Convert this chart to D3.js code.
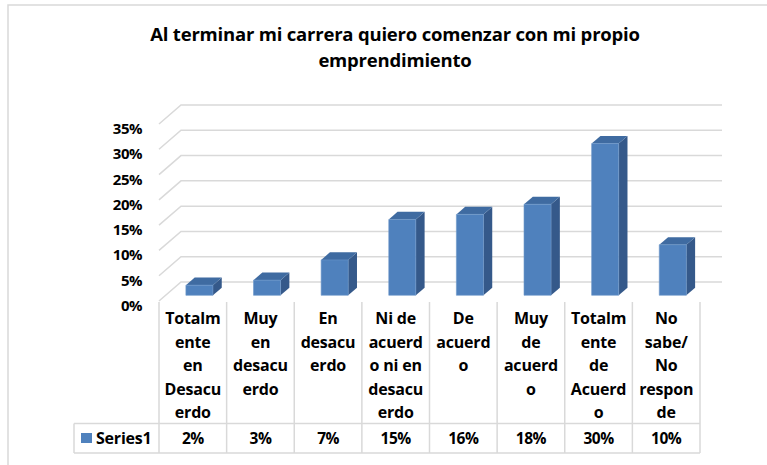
<!DOCTYPE html>
<html>
<head>
<meta charset="utf-8">
<script src="https://cdn.jsdelivr.net/npm/d3@7"></script>
<style>
    body { margin: 0; background: #fff; }
    svg { display: block; font-family: 'Open Sans', 'Lato', sans-serif; }
</style>
</head>
<body>
<svg id="chart" width="767" height="465"></svg>
<script>
// Data
const categories = ['c1', 'c2', 'c3', 'c4', 'c5', 'c6', 'c7', 'c8'];
const categoryLines = [
    ['Totalm', 'ente', 'en', 'Desacu', 'erdo'],
    ['Muy', 'en', 'desacu', 'erdo'],
    ['En', 'desacu', 'erdo'],
    ['Ni de', 'acuerd', 'o ni en', 'desacu', 'erdo'],
    ['De', 'acuerd', 'o'],
    ['Muy', 'de', 'acuerd', 'o'],
    ['Totalm', 'ente', 'de', 'Acuerd', 'o'],
    ['No', 'sabe/', 'No', 'respon', 'de']
];
const values = [0.02, 0.03, 0.07, 0.15, 0.16, 0.18, 0.30, 0.10];
const valueLabels = ['2%', '3%', '7%', '15%', '16%', '18%', '30%', '10%'];
const yTicks = [0, 0.05, 0.10, 0.15, 0.20, 0.25, 0.30, 0.35];
const seriesName = 'Series1';
const titleLines = ['Al terminar mi carrera quiero comenzar con mi propio', 'emprendimiento'];

const svg = d3.select('#chart');

// Outer chart border (only top/left visible)
svg.append('path')
    .attr('d', 'M8,465 V5 H767')
    .attr('fill', 'none')
    .attr('stroke', '#d9d9d9')
    .attr('stroke-width', 1.5);

// Title
svg.append('text')
    .attr('text-anchor', 'middle')
    .attr('font-weight', 'bold')
    .attr('font-size', 18.5)
    .attr('letter-spacing', -0.2)
    .attr('fill', '#000')
    .selectAll('tspan')
    .data(titleLines)
    .join('tspan')
    .attr('x', 395)
    .attr('y', (d, i) => 41 + i * 26)
    .text(d => d);

// Scales
const x = d3.scaleBand().domain(categories).range([159, 700]);
const y = d3.scaleLinear().domain([0, 0.35]).range([0, 177]);
const floorY = 301;
const depthDx = 22, depthDy = -19;

// project a point: front x, value, depth (0 front .. 1 back)
function pt(px, v, d) {
    return [px + d * depthDx, floorY + d * depthDy - y(v)];
}

const grid = svg.append('g')
    .attr('fill', 'none')
    .attr('stroke', '#d9d9d9')
    .attr('stroke-width', 1.5);

// back wall gridlines + side wall diagonals
yTicks.forEach(v => {
    const a = pt(x.range()[0], v, 0);
    const b = pt(x.range()[0], v, 1);
    const c = pt(x.range()[1], v, 1);
    grid.append('path').attr('d', `M${a[0]},${a[1]} L${b[0]},${b[1]} L${c[0]},${c[1]}`);
});

// Y axis labels
svg.append('g')
    .attr('font-weight', 'bold')
    .attr('font-size', 15)
    .attr('letter-spacing', -0.5)
    .attr('text-anchor', 'end')
    .selectAll('text')
    .data(yTicks)
    .join('text')
    .attr('x', 142)
    .attr('y', d => pt(0, d, 0)[1] + 4)
    .attr('dominant-baseline', 'central')
    .text(d3.format('.0%'));

// Bars (3D)
const barW = x.bandwidth() / 2.5;
const d0 = 0.3, d1 = 0.7;
const bars = svg.append('g')
    .selectAll('g')
    .data(values)
    .join('g');

function poly(points) {
    return 'M' + points.map(p => p.join(',')).join('L') + 'Z';
}

bars.each(function(v, i) {
    const g = d3.select(this);
    const cx = x(categories[i]) + x.bandwidth() / 2;
    const l = cx - barW / 2, r = cx + barW / 2;
    // right side
    g.append('path')
        .attr('d', poly([pt(r, 0, d0), pt(r, 0, d1), pt(r, v, d1), pt(r, v, d0)]))
        .attr('fill', '#35598a');
    // top
    g.append('path')
        .attr('d', poly([pt(l, v, d0), pt(r, v, d0), pt(r, v, d1), pt(l, v, d1)]))
        .attr('fill', '#3f6ba1');
    // front
    g.append('path')
        .attr('d', poly([pt(l, 0, d0), pt(r, 0, d0), pt(r, v, d0), pt(l, v, d0)]))
        .attr('fill', '#4f81bd')
        .attr('stroke', '#6c97c9')
        .attr('stroke-width', 0.6);
});

// Data table
const tableTop = 302, rowTop = 423.5, tableBottom = 453;
const table = svg.append('g')
    .attr('fill', 'none')
    .attr('stroke', '#d9d9d9')
    .attr('stroke-width', 1.5);

const bounds = categories.map(c => x(c)).concat([x.range()[1]]);
bounds.forEach(bx => {
    table.append('line')
        .attr('x1', bx).attr('x2', bx)
        .attr('y1', tableTop).attr('y2', tableBottom);
});
table.append('line').attr('x1', 74).attr('x2', 700).attr('y1', rowTop).attr('y2', rowTop);
table.append('line').attr('x1', 74).attr('x2', 700).attr('y1', tableBottom).attr('y2', tableBottom);
table.append('line').attr('x1', 74).attr('x2', 74).attr('y1', rowTop).attr('y2', tableBottom);

// Category labels
svg.append('g')
    .attr('font-weight', 'bold')
    .attr('font-size', 16)
    .attr('letter-spacing', -0.2)
    .attr('text-anchor', 'middle')
    .selectAll('text')
    .data(categoryLines)
    .join('text')
    .each(function(lines, i) {
        const cx = x(categories[i]) + x.bandwidth() / 2;
        d3.select(this).selectAll('tspan')
            .data(lines)
            .join('tspan')
            .attr('x', cx)
            .attr('y', (d, j) => 318 + j * 23.6)
            .attr('dominant-baseline', 'central')
            .text(d => d);
    });

// Values row
svg.append('g')
    .attr('font-weight', 'bold')
    .attr('font-size', 15.5)
    .attr('letter-spacing', -0.5)
    .attr('text-anchor', 'middle')
    .selectAll('text')
    .data(valueLabels)
    .join('text')
    .attr('x', (d, i) => x(categories[i]) + x.bandwidth() / 2)
    .attr('y', 438)
    .attr('dominant-baseline', 'central')
    .text(d => d);

// Legend key + series name
svg.append('rect')
    .attr('x', 81).attr('y', 433)
    .attr('width', 11).attr('height', 10)
    .attr('fill', '#4f81bd');
svg.append('text')
    .attr('x', 96).attr('y', 438)
    .attr('dominant-baseline', 'central')
    .attr('font-weight', 'bold')
    .attr('font-size', 16)
    .attr('letter-spacing', -0.2)
    .text(seriesName);
</script>
</body>
</html>
